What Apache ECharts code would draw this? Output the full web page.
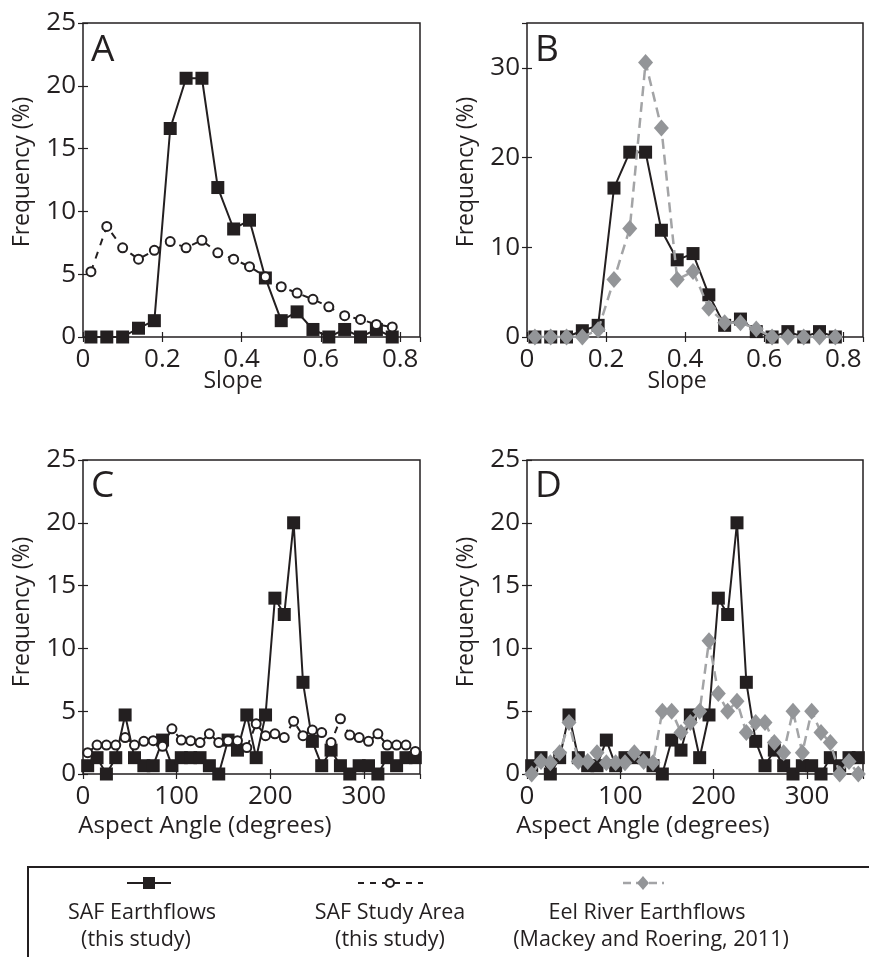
<!DOCTYPE html>
<html><head><meta charset="utf-8">
<script src="https://cdn.jsdelivr.net/npm/echarts@6/dist/echarts.min.js"></script>
<style>html,body{margin:0;padding:0;background:#fff}#c{width:869px;height:957px}</style>
</head><body><div id="c"></div>
<script>
// ---- data ----
const slopeBins = [0.02,0.06,0.10,0.14,0.18,0.22,0.26,0.30,0.34,0.38,0.42,0.46,0.50,0.54,0.58,0.62,0.66,0.70,0.74,0.78];
const safSlope  = [0,0,0,0.7,1.3,16.6,20.6,20.6,11.9,8.6,9.3,4.7,1.3,2.0,0.6,0,0.6,0,0.6,0];
const areaSlope = [5.2,8.8,7.1,6.2,6.9,7.6,7.1,7.7,6.7,6.2,5.6,4.8,4.0,3.5,3.0,2.4,1.7,1.4,1.0,0.8];
const eelSlope  = [0,0,0,0,0.8,6.4,12.1,30.6,23.3,6.4,7.3,3.2,1.6,1.6,0.9,0,0,0,0,0];

const aspectBins = [5,15,25,35,45,55,65,75,85,95,105,115,125,135,145,155,165,175,185,195,205,215,225,235,245,255,265,275,285,295,305,315,325,335,345,355];
const safAspect  = [0.66,1.3,0,1.3,4.7,1.3,0.66,0.66,2.7,0.66,1.3,1.3,1.3,0.66,0,2.7,1.9,4.7,1.3,4.7,14,12.7,20,7.3,2.6,0.66,1.9,0.66,0,0.66,0.66,0,1.3,0.66,1.3,1.3];
const areaAspect = [1.7,2.3,2.3,2.3,2.9,2.3,2.6,2.65,2.2,3.6,2.7,2.65,2.5,3.2,2.5,2.65,2.65,2.1,4.0,3.05,3.2,2.9,4.2,3.05,3.5,3.3,2.5,4.4,3.1,2.9,2.6,3.2,2.3,2.3,2.3,1.8];
const eelAspect  = [0,1.0,0.9,1.7,4.1,1.0,1.0,1.7,0.9,0.9,0.9,1.7,1.0,0.9,5.0,5.0,3.3,4.1,5.0,10.6,6.4,5.0,5.8,3.3,4.1,4.1,2.5,1.7,5.0,1.7,5.0,3.3,2.5,0,1.0,0];

const slopeTicks = {min:0, max:0.85, interval:0.2};
const aspectTicks = {min:0, max:360, interval:100};
const panelLetters = ['A','B','C','D'];
const xTitles = ['Slope','Slope','Aspect Angle (degrees)','Aspect Angle (degrees)'];
const yTitle = 'Frequency (%)';
const legendNames = ['SAF Earthflows','(this study)','SAF Study Area','(this study)','Eel River Earthflows','(Mackey and Roering, 2011)'];

// ---- style ----
const INK = '#231f20', GRAY = '#939598', FONT = 'Open Sans';
const grids = [
  {left:83, top:23, width:337, height:314},
  {left:527, top:23, width:336, height:314},
  {left:83, top:460, width:337, height:314},
  {left:527, top:460, width:336, height:314}
];
const yRanges = [{min:0,max:25,interval:5},{min:0,max:35,interval:10},{min:0,max:25,interval:5},{min:0,max:25,interval:5}];
const xRanges = [slopeTicks, slopeTicks, aspectTicks, aspectTicks];

const xAxis = [], yAxis = [];
grids.forEach((g, i) => {
  const base = {type:'value', gridIndex:i, splitLine:{show:false}, axisLine:{show:false},
    axisTick:{show:true, inside:true, length:5, lineStyle:{color:INK, width:1.2}}};
  xAxis.push(Object.assign({}, base, xRanges[i], {position:'bottom',
    axisLabel:{fontFamily:FONT, fontSize:26, color:INK, margin:10, showMaxLabel:false}}));
  xAxis.push(Object.assign({}, base, xRanges[i], {position:'top', axisLabel:{show:false}}));
  yAxis.push(Object.assign({}, base, yRanges[i], {position:'left',
    axisLabel:{fontFamily:FONT, fontSize:26, color:INK, margin:7, showMaxLabel: i===1 ? false : true}}));
  yAxis.push(Object.assign({}, base, yRanges[i], {position:'right', axisLabel:{show:false}}));
});

function pairs(xs, ys){ return xs.map((x,k)=>[x, ys[k]]); }
function safSeries(gi, xs, ys){
  return {type:'line', xAxisIndex:2*gi, yAxisIndex:2*gi, data:pairs(xs,ys), symbol:'rect', symbolSize:13,
    lineStyle:{color:INK, width:2}, itemStyle:{color:INK}, z:3, animation:false};
}
function areaSeries(gi, xs, ys){
  return {type:'line', xAxisIndex:2*gi, yAxisIndex:2*gi, data:pairs(xs,ys), symbol:'circle', symbolSize:9,
    lineStyle:{color:INK, width:2, type:[7,7]}, itemStyle:{color:'#fff', borderColor:INK, borderWidth:2}, z:4, animation:false};
}
function eelSeries(gi, xs, ys){
  return {type:'line', xAxisIndex:2*gi, yAxisIndex:2*gi, data:pairs(xs,ys), symbol:'diamond', symbolSize:[15,17],
    lineStyle:{color:'#a3a4a6', width:2.5, type:[10,6]}, itemStyle:{color:GRAY}, z:4, animation:false};
}

const series = [
  safSeries(0, slopeBins, safSlope), areaSeries(0, slopeBins, areaSlope),
  safSeries(1, slopeBins, safSlope), eelSeries(1, slopeBins, eelSlope),
  safSeries(2, aspectBins, safAspect), areaSeries(2, aspectBins, areaAspect),
  safSeries(3, aspectBins, safAspect), eelSeries(3, aspectBins, eelAspect)
];

const graphic = [];
const letterPos = [[91,32],[535,32],[91,468],[535,468]];
panelLetters.forEach((L,i)=>{
  graphic.push({type:'text', left:letterPos[i][0], top:letterPos[i][1], z:10,
    style:{text:L, fontFamily:FONT, fontSize:37, fill:INK}});
});
// axis titles
const xTitlePos = [[233,381],[677,381],[205,826],[643,826]];
xTitles.forEach((t,i)=>{
  graphic.push({type:'text', x:xTitlePos[i][0], y:xTitlePos[i][1],
    style:{text:t, fontFamily:FONT, fontSize:i<2?23:24, fill:INK, align:'center', verticalAlign:'middle'}});
});
const yTitlePos = [[22,172],[466,172],[22,612],[466,612]];
yTitlePos.forEach(p=>{
  graphic.push({type:'text', x:p[0], y:p[1], rotation:Math.PI/2,
    style:{text:yTitle, fontFamily:FONT, fontSize:23, fill:INK, align:'center', verticalAlign:'middle'}});
});
// legend box
graphic.push({type:'rect', shape:{x:28, y:867, width:900, height:200}, style:{fill:'none', stroke:INK, lineWidth:2}, silent:true});
// legend icons
graphic.push({type:'line', shape:{x1:127,y1:883,x2:171,y2:883}, style:{stroke:INK, lineWidth:2}});
graphic.push({type:'rect', shape:{x:143,y:877,width:12,height:12}, style:{fill:INK}});
graphic.push({type:'line', shape:{x1:358,y1:883,x2:423,y2:883}, style:{stroke:INK, lineWidth:2, lineDash:[6,6]}});
graphic.push({type:'circle', shape:{cx:390,cy:883,r:4}, style:{fill:'#fff', stroke:INK, lineWidth:2}});
graphic.push({type:'line', shape:{x1:623,y1:883,x2:664,y2:883}, style:{stroke:'#a3a4a6', lineWidth:2.5, lineDash:[8,5]}});
graphic.push({type:'polygon', shape:{points:[[643,876],[649,883],[643,890],[637,883]]}, style:{fill:GRAY}});
const legPos = [[142,913],[136,940],[390,913],[390,940],[647,913],[651,940]];
legendNames.forEach((t,k)=>{
  graphic.push({type:'text', x:legPos[k][0], y:legPos[k][1], style:{text:t, fontFamily:FONT, fontSize:21.5, fill:INK, align:'center', verticalAlign:'middle'}});
});

const chart = echarts.init(document.getElementById('c'), null, {renderer:'canvas'});
chart.setOption({
  animation:false,
  backgroundColor:'#fff',
  grid: grids.map(g=>Object.assign({show:true, borderColor:INK, borderWidth:1.5, backgroundColor:'transparent'}, g)),
  xAxis, yAxis, series, graphic
});
</script>
</body></html>
